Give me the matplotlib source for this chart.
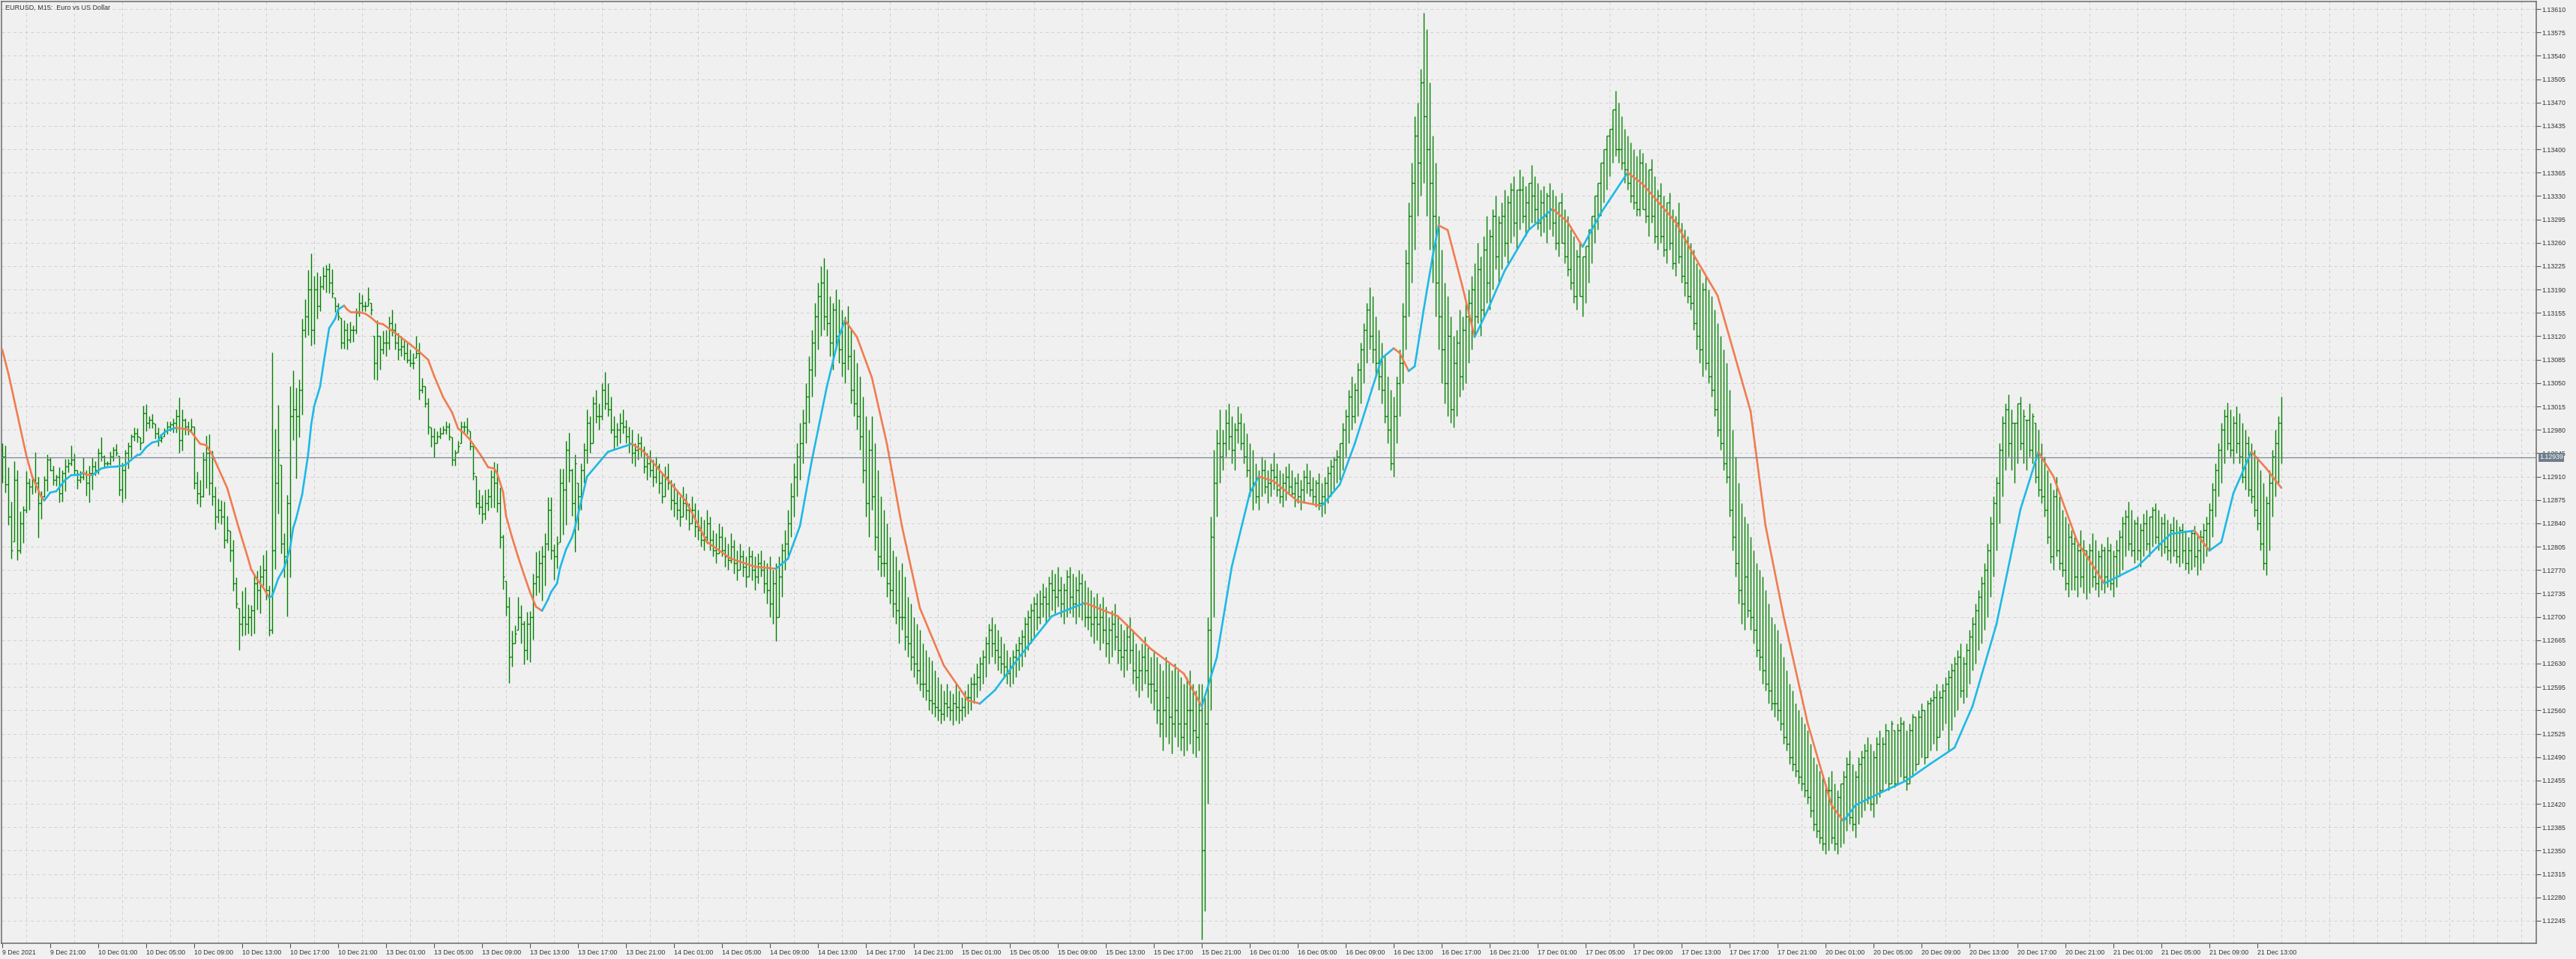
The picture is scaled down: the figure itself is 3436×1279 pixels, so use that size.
import numpy as np
import pandas as pd
import matplotlib
matplotlib.use("Agg")
import matplotlib.pyplot as plt
from matplotlib.collections import LineCollection
from matplotlib.ticker import FixedLocator, MultipleLocator

# ---------------- data (prices in points above 1.12000, 1 point = 0.00001) ----------------
BASE = 1.12
high_pts = [960,957,924,873,933,920,858,866,918,907,909,946,909,888,911,943,939,926,913,924,
            920,937,936,957,944,920,918,939,920,926,939,933,952,969,942,933,948,954,959,941,
            931,950,961,974,984,983,969,1016,1018,1000,1004,989,984,972,982,993,993,997,1010,1028,
            1010,997,993,997,985,917,905,947,971,973,949,895,877,875,873,851,829,815,759,713,
            739,745,719,717,763,769,777,793,799,747,1096,981,1017,927,825,883,1045,1069,1043,1055,
            1146,1176,1219,1244,1210,1216,1210,1224,1227,1230,1220,1178,1170,1148,1144,1140,1142,1136,1162,1186,
            1182,1172,1194,1170,1120,1144,1120,1128,1130,1150,1160,1140,1125,1120,1115,1110,1100,1095,1120,1110,
            1058,1045,1027,984,982,978,984,986,993,990,969,950,963,993,993,998,978,956,911,890,
            883,890,892,920,932,930,894,823,754,730,679,687,730,717,694,707,709,765,797,799,
            806,825,879,879,808,821,922,922,963,976,922,943,
            900,930,960,1010,1000,1030,1040,1020,1050,1067,
            1050,1030,1000,990,1005,1010,995,985,980,960,
            975,970,955,945,950,935,940,930,915,925,
            930,905,900,890,880,895,885,870,880,870,
            860,850,845,860,850,830,825,840,835,820,
            810,825,815,800,810,800,790,805,800,790,
            795,800,785,780,790,770,780,790,810,830,
            860,900,930,960,990,1010,1050,1090,1130,1170,
            1200,1225,1237,1220,1180,1170,1190,1175,1160,1150,
            1165,1130,1100,1080,1060,1030,1000,980,1000,960,
            920,880,860,840,820,800,790,770,780,760,
            730,720,700,690,680,660,650,640,635,620,
            610,600,590,600,590,585,600,590,580,590,
            600,610,615,630,640,650,670,690,700,690,
            680,670,660,650,640,650,660,670,680,700,
            710,720,730,735,740,750,745,760,770,765,
            775,760,750,770,775,765,760,770,765,755,
            745,740,730,735,720,730,715,700,710,720,
            700,690,680,690,700,680,660,650,660,670,
            655,640,650,640,630,620,640,630,620,630,
            620,610,600,610,620,600,590,600,600,580,
            700,850,950,980,1010,980,1010,1020,1000,990,
            1015,1005,990,975,960,950,930,920,940,935,
            920,930,945,930,920,915,925,930,920,910,
            915,905,920,930,920,910,905,915,900,910,
            925,935,940,950,960,990,1010,1040,1060,1050,
            1080,1110,1140,1170,1193,1180,1150,1130,1110,1090,
            1060,1040,1030,1060,1100,1170,1250,1320,1380,1450,
            1470,1520,1604,1580,1500,1420,1380,1300,1250,1200,
            1180,1150,1120,1130,1160,1150,1170,1190,1210,1230,
            1260,1240,1270,1300,1280,1310,1330,1300,1320,1340,
            1330,1350,1360,1340,1370,1360,1345,1350,1377,1360,
            1350,1340,1345,1335,1350,1340,1330,1320,1335,1310,
            1300,1280,1270,1250,1260,1240,1255,1280,1300,1330,
            1350,1380,1400,1420,1430,1460,1488,1470,1450,1430,
            1420,1410,1400,1390,1400,1395,1380,1370,1385,1360,
            1340,1350,1330,1320,1335,1310,1300,1320,1290,1280,
            1270,1260,1250,1230,1220,1200,1210,1190,1180,1160,
            1140,1120,1100,1080,1040,980,940,900,870,850,
            840,820,800,780,770,760,740,720,700,690,
            680,660,640,620,600,590,570,560,550,540,
            530,510,490,480,470,460,450,460,470,450,
            440,450,470,490,500,480,470,490,500,510,
            520,510,500,520,530,520,540,530,545,530,
            540,550,545,530,540,555,550,560,570,560,
            575,580,590,600,590,600,610,620,630,640,
            650,660,640,660,680,700,720,740,760,780,
            810,850,880,910,960,1000,1020,1033,1010,990,
            1020,1030,1010,995,1020,1005,990,980,960,940,
            920,900,890,910,880,860,850,840,830,820,
            810,830,815,800,810,825,815,800,810,805,
            820,810,800,815,830,850,860,873,860,845,
            850,840,855,860,850,865,870,860,850,855,
            845,840,850,845,835,840,830,820,830,836,
            825,830,840,850,870,900,930,960,990,1010,
            1021,1010,1000,1015,1005,990,980,970,960,950,
            940,920,900,880,920,950,980,1000,1030]
low_pts = [900,886,838,787,813,785,795,811,856,860,884,886,819,847,879,888,918,897,896,871,
           873,888,916,926,914,891,901,905,882,871,890,912,914,933,924,926,927,933,941,881,
           871,877,922,939,963,961,950,961,978,982,982,967,955,961,970,974,978,976,976,945,
           949,972,972,978,891,869,865,879,893,883,867,831,841,839,803,811,783,739,713,650,
           671,673,675,671,675,711,705,747,725,671,675,771,855,795,759,701,759,965,907,969,
           1003,1118,1122,1106,1108,1146,1158,1190,1186,1184,1178,1156,1144,1102,1102,1100,1110,1112,1124,1150,
           1158,1158,1166,1152,1056,1054,1070,1094,1090,1100,1120,1100,1085,1090,1085,1080,1074,1071,1088,1025,
           1035,1014,973,954,939,960,967,973,973,965,926,926,947,960,976,973,950,905,864,853,
           840,846,859,864,864,857,803,741,702,601,625,660,681,660,629,636,632,666,732,737,
           724,747,799,786,756,773,812,823,838,902,851,797,
           830,860,900,930,945,960,990,980,995,1010,
           1000,975,950,955,960,975,960,945,930,925,
           935,940,915,905,910,895,900,885,870,880,
           890,860,850,845,835,850,845,830,840,820,
           815,805,800,810,800,790,780,795,790,775,
           770,780,765,755,770,760,745,760,755,740,
           750,760,735,720,700,690,664,700,730,770,
           790,820,850,880,905,930,960,990,1030,1060,
           1100,1120,1130,1120,1090,1070,1100,1080,1060,1050,
           1070,1020,1000,980,950,900,850,820,860,800,
           770,760,760,730,720,700,690,660,680,650,
           640,620,610,600,590,580,575,560,555,550,
           545,540,545,550,545,538,545,540,545,550,
           555,560,570,580,590,600,610,630,640,630,
           620,615,610,600,595,600,610,620,625,640,
           650,660,670,680,690,700,690,700,710,705,
           715,700,690,700,705,700,690,700,695,685,
           680,670,660,665,650,660,640,630,640,650,
           630,620,610,620,630,600,590,580,590,600,
           580,570,560,540,520,500,520,510,495,520,
           505,500,492,500,510,495,490,500,217,260,
           420,560,700,850,900,920,940,950,930,920,
           960,950,930,910,880,860,870,860,880,885,
           870,880,890,880,870,865,875,885,880,865,
           870,860,870,885,880,870,865,860,850,855,
           870,880,890,900,905,920,940,960,980,990,
           1000,1020,1050,1080,1100,1080,1060,1040,1020,990,
           960,920,910,960,1000,1050,1100,1150,1200,1250,
           1300,1330,1350,1300,1250,1200,1150,1100,1050,1020,
           1000,990,984,1000,1030,1040,1050,1080,1100,1120,
           1140,1120,1150,1170,1160,1190,1220,1200,1220,1240,
           1230,1260,1270,1250,1280,1290,1270,1280,1290,1290,
           1280,1270,1275,1260,1280,1270,1250,1240,1260,1230,
           1210,1190,1170,1160,1180,1150,1170,1200,1230,1260,
           1280,1300,1320,1340,1360,1380,1390,1380,1370,1350,
           1340,1320,1310,1300,1300,1310,1290,1270,1290,1260,
           1250,1260,1240,1230,1250,1220,1210,1230,1200,1180,
           1170,1160,1130,1100,1080,1060,1070,1050,1030,1000,
           970,950,920,900,850,800,760,720,690,680,
           700,680,660,640,620,600,590,570,560,550,
           545,530,510,500,480,470,460,450,440,430,
           420,400,380,370,360,350,345,350,360,350,
           345,355,360,380,390,380,370,390,400,410,
           420,410,400,420,430,440,450,440,450,445,
           450,460,455,440,450,460,470,480,490,480,
           490,500,510,500,520,530,540,500,530,550,
           560,580,570,580,600,620,630,650,660,680,
           700,730,760,800,840,880,920,940,920,900,
           930,950,930,920,940,930,900,880,870,850,
           810,780,770,790,770,760,740,730,740,740,
           730,745,735,726,735,745,740,730,740,735,
           745,740,730,745,760,770,790,800,790,780,
           785,775,790,800,790,805,810,800,790,795,
           785,780,790,780,775,780,770,765,770,775,
           763,770,780,790,800,820,850,880,900,930,
           950,940,930,945,930,900,890,880,870,850,
           830,800,770,763,800,850,880,900,930]
close_pts = [940,898,850,800,905,800,840,860,900,895,905,900,870,880,905,935,920,905,910,885,
             915,925,930,935,920,905,910,915,900,915,925,920,945,940,930,930,940,950,945,890,
             920,945,955,970,975,970,960,1005,990,995,990,975,965,968,978,985,988,990,1000,965,
             995,985,980,985,900,885,880,935,945,900,880,850,860,850,815,830,800,750,720,690,
             700,690,700,710,750,740,760,770,740,680,800,900,950,810,790,870,1000,1010,1000,1040,
             1130,1150,1190,1130,1190,1165,1195,1210,1220,1200,1185,1165,1150,1110,1130,1115,1130,1130,1155,1170,
             1165,1165,1175,1160,1080,1120,1100,1110,1110,1140,1130,1110,1100,1105,1095,1085,1080,1080,1095,1040,
             1045,1020,985,970,960,970,975,980,985,970,935,945,955,985,985,980,955,915,870,865,
             855,870,880,910,900,870,820,760,715,640,660,675,700,690,650,690,700,750,760,780,
             790,810,860,800,790,810,900,890,950,920,870,930,
             880,920,950,990,960,1020,1000,1000,1040,1020,
             1010,980,970,980,990,985,970,960,945,950,
             960,950,925,930,920,910,925,900,880,910,
             900,875,870,860,850,870,860,840,860,835,
             830,815,820,840,815,800,795,820,800,790,
             785,805,780,770,790,775,760,790,770,760,
             780,770,750,740,720,750,700,760,800,810,
             840,880,910,940,960,990,1030,1070,1110,1150,
             1180,1200,1150,1140,1110,1160,1120,1100,1080,1140,
             1090,1040,1020,1000,970,920,870,950,880,820,
             790,780,780,750,740,720,710,700,700,670,
             660,640,630,620,600,600,590,575,570,565,
             560,555,570,565,560,570,565,560,565,580,
             580,600,600,610,630,640,660,680,660,650,
             640,630,625,615,625,640,650,660,670,690,
             700,710,720,700,720,730,720,750,740,730,
             740,720,740,760,730,720,740,750,720,700,
             700,690,700,690,700,680,660,680,690,670,
             650,640,650,670,650,620,610,620,640,620,
             600,600,590,560,540,560,580,550,540,560,
             540,520,540,560,560,530,520,560,350,540,
             680,820,900,960,940,960,990,970,950,980,
             990,960,940,920,890,900,880,910,920,895,
             900,920,910,890,880,900,910,895,885,900,
             880,890,910,900,890,880,900,870,880,900,
             915,925,935,940,960,980,1000,1030,1000,1040,
             1070,1100,1130,1160,1120,1100,1080,1060,1040,1000,
             980,930,1000,1050,1080,1150,1230,1300,1350,1420,
             1380,1500,1450,1400,1350,1300,1200,1150,1100,1050,
             1120,1010,1080,1110,1060,1130,1150,1170,1190,1150,
             1220,1160,1250,1200,1270,1300,1240,1290,1300,1260,
             1320,1340,1290,1350,1340,1300,1320,1360,1330,1310,
             1290,1320,1300,1330,1310,1290,1260,1320,1250,1240,
             1220,1200,1180,1240,1170,1240,1260,1290,1320,1340,
             1370,1390,1410,1420,1450,1470,1400,1400,1380,1370,
             1350,1330,1320,1310,1380,1300,1300,1370,1300,1270,
             1330,1270,1250,1320,1260,1230,1290,1240,1210,1200,
             1180,1170,1140,1120,1100,1190,1080,1060,1040,1010,
             980,960,930,910,860,820,780,740,720,760,
             710,700,680,650,640,620,600,590,570,570,
             560,540,520,510,490,480,470,460,450,440,
             430,410,390,380,370,360,440,440,370,360,
             430,450,460,480,400,390,460,480,490,500,
             430,420,490,510,440,510,530,450,540,450,
             530,540,460,450,530,550,480,550,560,490,
             570,575,580,520,580,590,600,610,620,630,
             640,590,630,650,670,690,710,730,750,770,
             800,840,870,900,950,990,1010,960,990,1010,
             1020,960,1000,1010,950,1000,910,890,880,860,
             820,790,880,800,780,770,750,820,810,760,
             800,760,800,790,800,760,750,790,800,760,
             800,750,790,800,820,840,850,810,800,840,
             800,830,840,810,850,860,820,810,840,805,
             800,830,800,790,830,800,780,800,825,790,
             800,820,830,840,860,890,920,950,980,1000,
             960,950,990,960,940,910,960,890,880,860,
             840,810,780,870,900,940,960,990,939]
first_open_pts = 950

# moving-average readings: bar index and value
ma_bar = [0,2,3,8,10,13,14,16,18,21,23,26,27,28,30,31,33,35,38,41,43,45,46,48,50,52,53,55,58,60,62,63,
          66,68,70,72,75,77,79,82,83,85,87,89,90,92,94,96,97,98,100,102,103,104,106,107,109,111,112,114,
          115,116,118,121,123,125,127,131,136,139,142,144,147,150,152,154,156,158,160,162,164,165,167,168,
          170,172,174,176,178,180,182,183,185,186,188,190,191,
          195,202,210,214,221,228,235,243,251,258,262,266,270,275,279,281,285,290,295,300,306,314,322,326,
          331,339,350,361,372,383,394,400,405,410,416,419,424,432,440,446,451,460,464,466,469,471,474,477,479,
          482,487,
          491,495,501,509,517,522,527,533,542,547,558,564,572,583,588,594,602,610,614,618,627,635,643,651,
          657,665,673,679,684,692,701,712,723,731,736,740,744,750,755,760]
ma_pts = [1100,1065,1045,942,910,880,874,886,888,905,912,913,916,913,912,915,922,924,925,927,935,942,943,954,
          961,963,972,979,983,982,980,977,959,957,943,923,893,862,831,787,771,756,744,729,731,757,773,803,
          833,847,883,943,987,1015,1045,1075,1132,1146,1160,1166,1160,1157,1157,1154,1148,1140,1138,1125,1108,1097,
          1085,1061,1029,1006,982,975,965,952,939,924,922,915,887,851,819,790,763,737,715,709,726,737,750,773,
          801,819,834,
          910,947,959,947,910,873,812,787,775,772,787,836,935,1045,1119,1144,1119,1058,959,836,713,627,575,570,
          590,639,701,721,701,652,615,566,639,775,885,910,903,873,866,898,959,1087,1102,1095,1068,1075,1160,1240,1286,
          1279,1193,
          1119,1156,1218,1279,1311,1291,1254,1304,1365,1348,1291,1242,1181,1008,836,701,541,418,394,418,438,455,480,504,
          566,689,861,947,910,812,750,775,824,829,799,812,885,947,922,893]

current_price = 1.12939
start_time = "2021-12-09 17:00"
title = "EURUSD, M15:  Euro vs US Dollar"
ytick_first, ytick_step, ytick_count = 1.12245, 0.00035, 40

# ---------------- figure ----------------
W, H = 3436, 1279
BG = "#F0F0F0"
fig = plt.figure(figsize=(W / 100, H / 100), dpi=100, facecolor=BG)
ax = fig.add_axes([2 / W, 1 - 1258 / H, (3383 - 2) / W, (1258 - 2) / H], facecolor=BG)

hi = BASE + np.array(high_pts) / 1e5
lo = BASE + np.array(low_pts) / 1e5
cl = np.clip(BASE + np.array(close_pts) / 1e5, lo, hi)
op = np.clip(np.concatenate([[BASE + first_open_pts / 1e5], cl[:-1]]), lo, hi)
n_bars = len(hi)
idx = np.arange(n_bars)

segs = []
for i in idx:
    segs.append([(i, lo[i]), (i, hi[i])])
    segs.append([(i - 0.55, op[i]), (i, op[i])])
    segs.append([(i, cl[i]), (i + 0.55, cl[i])])
ax.add_collection(LineCollection(segs, colors="#008000", linewidths=1.0, zorder=3, capstyle="butt"))

mx = np.array(ma_bar, dtype=float)
my = BASE + np.array(ma_pts) / 1e5
mseg = [[(mx[i], my[i]), (mx[i + 1], my[i + 1])] for i in range(len(mx) - 1)]
mcol = ["#1EB9E6" if my[i + 1] > my[i] else "#F07C50" for i in range(len(mx) - 1)]
ax.add_collection(LineCollection(mseg, colors=mcol, linewidths=1.9, zorder=4, capstyle="round"))

# current price line
ax.axhline(current_price, color="#7C8794", lw=0.9, zorder=5)

ax.set_xlim(-0.25, 845)
ax.set_ylim(1.13610 - 1246 / 89080, 1.13610 + 10 / 89080)

# time axis (M15 bars, weekends skipped)
times = pd.date_range(start_time, periods=3000, freq="15min")
times = times[times.weekday < 5][:n_bars]
tick_pos = list(range(0, n_bars, 16))
tick_lab = []
for p in tick_pos:
    t = times[p]
    tick_lab.append(f"{t.day} {t:%b} {t.year}" if p == 0 else f"{t.day} {t:%b %H:%M}")
ax.xaxis.set_major_locator(FixedLocator(tick_pos))
ax.set_xticklabels(tick_lab)
ax.xaxis.set_minor_locator(MultipleLocator(8))

yt = [ytick_first + ytick_step * k for k in range(ytick_count)]
ax.yaxis.tick_right()
ax.set_yticks(yt)
ax.set_yticklabels([f"{v:.5f}" for v in yt])

FONT = "Liberation Sans"
ax.tick_params(axis="x", which="major", length=4, width=0.8, color="#555555", pad=2,
               labelsize=6.3, labelcolor="#333333")
ax.tick_params(axis="x", which="minor", length=0)
ax.tick_params(axis="y", which="major", length=4, width=0.8, color="#555555", pad=1.5,
               labelsize=6.3, labelcolor="#333333")
for lab in ax.get_xticklabels():
    lab.set_horizontalalignment("left")
    lab.set_fontfamily(FONT)
for lab in ax.get_yticklabels():
    lab.set_fontfamily(FONT)

ax.grid(True, which="minor", axis="x", color="#CFCFCF", lw=0.7, ls=(0, (4, 4)), zorder=0)
ax.grid(True, which="major", axis="y", color="#CFCFCF", lw=0.7, ls=(0, (4, 4)), zorder=0)
ax.set_axisbelow(True)
for s in ax.spines.values():
    s.set_color("#6A6A6A")
    s.set_linewidth(1.1)

# price label on right axis
ax.annotate(f"{current_price:.5f}", xy=(1.0, current_price), xycoords=("axes fraction", "data"),
            xytext=(3, 0), textcoords="offset points", va="center", ha="left",
            fontsize=6.3, color="white", family=FONT, zorder=10, annotation_clip=False,
            bbox=dict(boxstyle="square,pad=0.15", fc="#6F7D8C", ec="none"))

fig.text(7 / W, 1 - 10 / H, title, ha="left", va="center", fontsize=6.5, color="#333333", family=FONT)

fig.savefig("out.png", dpi=100, facecolor=BG)
